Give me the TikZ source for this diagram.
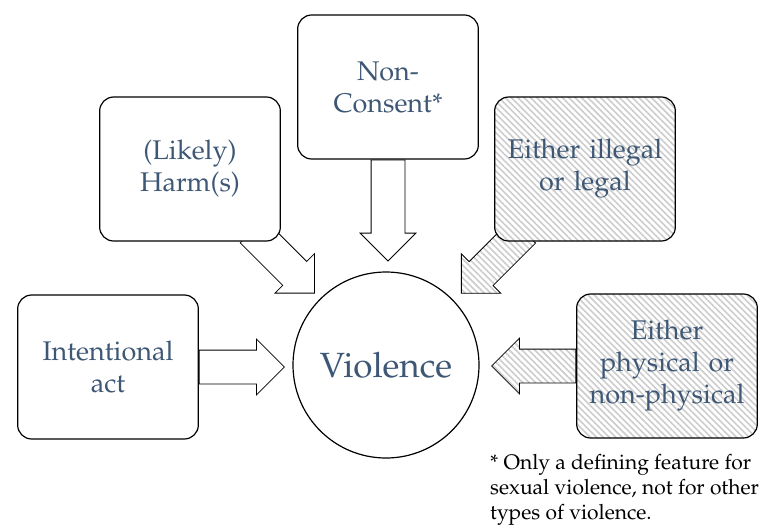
\documentclass[tikz,border=0pt]{standalone}
\usepackage[T1]{fontenc}
\usepackage{mathpazo}
\usetikzlibrary{shapes.arrows,patterns.meta,backgrounds}
\definecolor{slateblue}{HTML}{3D5775}
\definecolor{hatchgray}{HTML}{CDCDCD}

\begin{document}
\begin{tikzpicture}[x=1pt,y=-1pt,
    box/.style={draw,line width=1.2pt,rounded corners=14pt,fill=white,minimum width=180pt,minimum height=144pt,text width=174pt,align=center,text=slateblue,font=\fontsize{27}{32}\selectfont},
    hatched/.style={preaction={fill=white},pattern={Lines[angle=-45,distance=4.5pt,line width=1.6pt]},pattern color=hatchgray},
    blockarrow/.style={single arrow,draw,line width=0.8pt,fill=white,inner sep=0pt,text height=16.5pt,text depth=16.5pt,single arrow head extend=11pt,anchor=tail}]
    \useasboundingbox (0,0) rectangle (771,528);

    \node[box] (consent) at (388,87) {Non-\\Consent*};
    \node[box] (harm) at (190,169) {(Likely)\\Harm(s)};
    \node[box,hatched] (legal) at (585,169) {Either illegal\\or legal};
    \node[box] (act) at (108,367) {Intentional\\act};
    \node[box,hatched] (phys) at (667,366) {Either\\physical or\\non-physical};

    \node[circle,draw,line width=1.2pt,minimum size=186pt,text=slateblue,font=\fontsize{35}{40}\selectfont] (vio) at (386,365) {Violence};

    % block arrows sit behind the boxes
    \begin{scope}[on background layer]
        \node[blockarrow,minimum height=85pt] (a-act) at (act.east) {};
        \node[blockarrow,minimum height=101pt,rotate=-90] (a-consent) at (consent.south) {};
        \node[blockarrow,minimum height=84pt,rotate=180,hatched] (a-phys) at (phys.west) {};
        \node[blockarrow,minimum height=88pt,rotate=-45] (a-harm) at ([xshift=-29pt,yshift=11pt]harm.south east) {};
        \node[blockarrow,minimum height=88pt,rotate=-135,hatched] (a-legal) at ([xshift=30pt,yshift=11pt]legal.south west) {};
    \end{scope}

    \node[anchor=north west,align=left,inner sep=0pt,font=\fontsize{21}{25}\selectfont] (note) at (490,454) {* Only a defining feature for\\sexual violence, not for other\\types of violence.};
\end{tikzpicture}
\end{document}
